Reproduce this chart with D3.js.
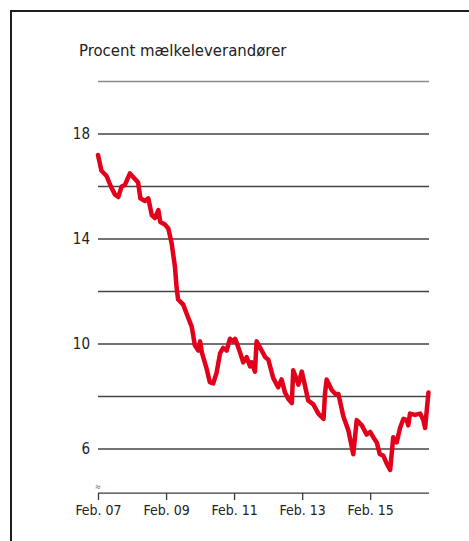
<!DOCTYPE html>
<html>
<head>
<meta charset="utf-8">
<script src="https://cdn.jsdelivr.net/npm/d3@7"></script>
<style>
    body { margin: 0; background: #fff; }
    svg { display: block; }
    .title { font-family: "DejaVu Sans Condensed", sans-serif; fill: #222; }
    .tick-label { font-family: "DejaVu Sans Condensed", sans-serif; fill: #222; }
</style>
</head>
<body>
<svg id="chart"></svg>
<script>
// maelkeleverandoerer, procent
const dates = [
    "2007-02-01", "2007-03-10", "2007-05-04", "2007-06-19", "2007-08-01", "2007-09-07", "2007-10-13", "2007-11-16",
    "2008-01-10", "2008-02-16", "2008-04-07", "2008-05-01", "2008-06-19", "2008-07-25", "2008-09-01", "2008-10-04",
    "2008-11-10", "2008-12-01", "2009-01-19", "2009-02-25", "2009-04-01", "2009-05-07", "2009-05-25", "2009-06-10",
    "2009-08-04", "2009-09-10", "2009-11-04", "2009-12-07", "2010-01-13", "2010-02-01", "2010-02-22", "2010-04-13",
    "2010-05-16", "2010-06-22", "2010-07-28", "2010-09-04", "2010-10-07", "2010-11-13", "2010-12-19", "2011-01-25",
    "2011-02-13", "2011-03-01", "2011-04-04", "2011-05-10", "2011-06-16", "2011-07-22", "2011-08-10", "2011-09-13",
    "2011-10-01", "2011-11-25", "2012-01-01", "2012-02-04", "2012-03-28", "2012-05-19", "2012-06-25", "2012-08-01",
    "2012-09-07", "2012-10-13", "2012-10-28", "2012-12-04", "2012-12-22", "2013-01-28", "2013-03-04", "2013-04-07",
    "2013-06-01", "2013-07-25", "2013-09-19", "2013-10-04", "2013-10-22", "2013-12-16", "2014-01-22", "2014-02-25",
    "2014-04-19", "2014-06-13", "2014-08-04", "2014-09-10", "2014-11-04", "2014-12-25", "2015-02-01", "2015-03-07",
    "2015-04-13", "2015-05-16", "2015-06-22", "2015-07-28", "2015-09-04", "2015-10-07", "2015-11-13", "2015-12-19",
    "2016-01-25", "2016-03-01", "2016-03-16", "2016-04-04", "2016-05-28", "2016-07-22", "2016-08-25", "2016-09-13",
    "2016-10-19"
];
const values = [
    17.2, 16.6, 16.4, 16.0, 15.7, 15.6, 16.0, 16.05,
    16.5, 16.35, 16.15, 15.55, 15.45, 15.55, 14.9, 14.8,
    15.1, 14.65, 14.55, 14.4, 13.85, 12.95, 12.15, 11.7,
    11.5, 11.15, 10.65, 9.95, 9.75, 10.1, 9.65, 9.05,
    8.55, 8.5, 8.9, 9.65, 9.85, 9.75, 10.2, 10.1,
    10.2, 10.05, 9.7, 9.3, 9.5, 9.15, 9.3, 8.95,
    10.1, 9.75, 9.5, 9.4, 8.7, 8.35, 8.65, 8.15,
    7.9, 7.75, 9.0, 8.65, 8.45, 8.95, 8.4, 7.85,
    7.7, 7.35, 7.15, 8.1, 8.65, 8.25, 8.1, 8.1,
    7.25, 6.7, 5.8, 7.1, 6.9, 6.55, 6.65, 6.45,
    6.25, 5.8, 5.75, 5.45, 5.2, 6.45, 6.25, 6.8,
    7.15, 7.1, 6.9, 7.35, 7.3, 7.35, 7.1, 6.8,
    8.15
];
const gridValues = [6, 8, 10, 12, 14, 16, 18, 20];
const yLabels = [6, 10, 14, 18];
const xTickDates = ["2007-02-01", "2009-02-01", "2011-02-01", "2013-02-01", "2015-02-01"];
const xTickLabels = ["Feb. 07", "Feb. 09", "Feb. 11", "Feb. 13", "Feb. 15"];
const titleText = "Procent mælkeleverandører";

class LineChart {
    width = 469
    height = 541

    constructor(svg) {
        this.svg = svg;
    }

    initialize() {
        this.svg = d3.select(this.svg)
            .attr("width", this.width)
            .attr("height", this.height);

        // frame runs off the right and bottom edge
        this.svg.append("rect")
            .attr("x", 11).attr("y", 11)
            .attr("width", 520).attr("height", 600)
            .attr("fill", "none")
            .attr("stroke", "#1e1e1e")
            .attr("stroke-width", 2);

        this.container = this.svg.append("g");
    }

    update() {
        const parse = d3.timeParse("%Y-%m-%d");
        const data = dates.map((d, i) => ({ date: parse(d), value: values[i] }));

        const x = d3.scaleTime()
            .domain([parse("2007-02-01"), parse("2016-10-25")])
            .range([98, 429]);
        const y = d3.scaleLinear().domain([6, 18]).range([449, 134]);
        const axisY = y(4.32);

        this.svg.append("text")
            .attr("class", "title")
            .attr("x", 79)
            .attr("y", 56)
            .attr("font-size", 16.6)
            .text(titleText);

        this.container.selectAll(".grid")
            .data(gridValues)
            .enter()
            .append("line")
            .attr("class", "grid")
            .attr("x1", x.range()[0])
            .attr("x2", x.range()[1])
            .attr("y1", d => y(d))
            .attr("y2", d => y(d))
            .attr("stroke", d => d === 20 ? "#8a8a8a" : "#444")
            .attr("stroke-width", 1.3);

        this.container.selectAll(".ylabel")
            .data(yLabels)
            .enter()
            .append("text")
            .attr("class", "tick-label")
            .attr("x", 90)
            .attr("y", d => y(d) + 5)
            .attr("text-anchor", "end")
            .attr("font-size", 15)
            .text(d => d);

        // x axis, baseline drawn by hand, with break mark
        const xAxis = d3.axisBottom(x)
            .tickValues(xTickDates.map(parse))
            .tickSizeOuter(0)
            .tickSize(7)
            .tickFormat((d, i) => xTickLabels[i]);

        const axisG = this.container.append("g")
            .attr("transform", `translate(0,${axisY})`)
            .call(xAxis);
        axisG.select(".domain").remove();
        axisG.append("line")
            .attr("x1", x.range()[0]).attr("x2", x.range()[1])
            .attr("stroke", "#3a3a3a").attr("stroke-width", 1.3);
        axisG.selectAll(".tick line").attr("stroke", "#3a3a3a").attr("stroke-width", 1.3);
        axisG.selectAll(".tick text")
            .attr("class", "tick-label")
            .attr("font-size", 14)
            .attr("y", 12);

        this.container.append("text")
            .attr("x", x.range()[0])
            .attr("y", axisY - 3)
            .attr("text-anchor", "middle")
            .attr("font-size", 9)
            .attr("fill", "#333")
            .text("≈");

        const line = d3.line()
            .x(d => x(d.date))
            .y(d => y(d.value))
            .curve(d3.curveLinear);

        this.container.append("path")
            .datum(data)
            .attr("d", line)
            .attr("fill", "none")
            .attr("stroke", "#e2001a")
            .attr("stroke-width", 4.5)
            .attr("stroke-linejoin", "round")
            .attr("stroke-linecap", "round");
    }
}

const chart = new LineChart(document.getElementById("chart"));
chart.initialize();
chart.update();
</script>
</body>
</html>
